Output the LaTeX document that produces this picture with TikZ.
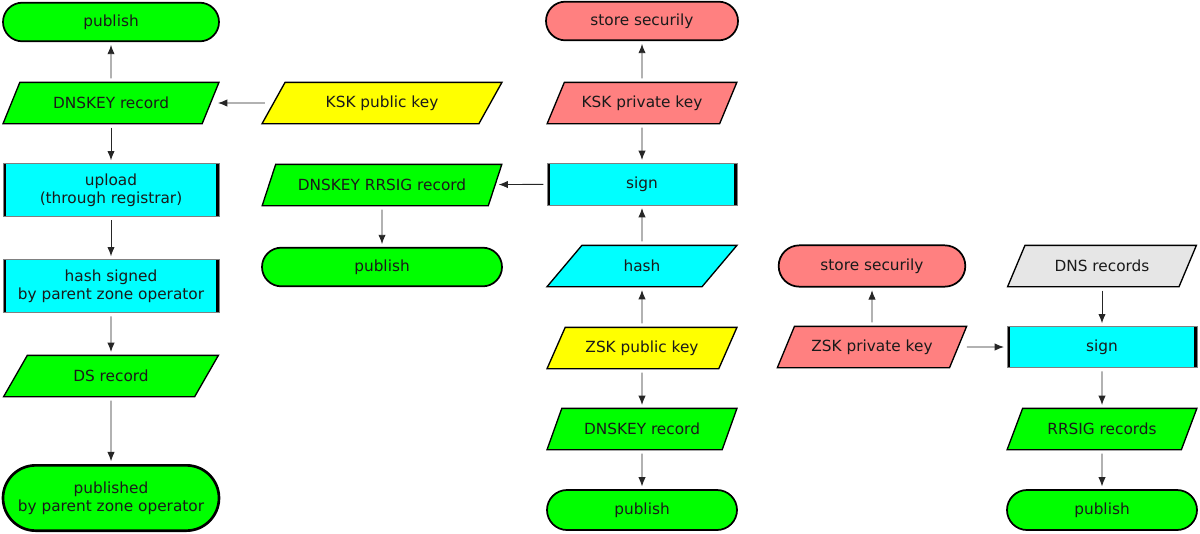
\documentclass[tikz,border=0pt]{standalone}
\usepackage{fontspec}
\setmainfont{DejaVu Sans}
\usetikzlibrary{arrows.meta}
\usetikzlibrary{shapes.geometric}
\usetikzlibrary{shapes.misc}
\definecolor{grn}{HTML}{00FF00}
\definecolor{cyn}{HTML}{00FFFF}
\definecolor{ylw}{HTML}{FFFF00}
\definecolor{slm}{HTML}{FF8080}
\definecolor{gry}{HTML}{E6E6E6}
\definecolor{txt}{HTML}{1A1A1A}
\tikzset{
  term/.style={rounded rectangle, draw=black, line width=1.3pt, fill=#1,
    minimum height=29pt, inner sep=0pt, align=center},
  data/.style={trapezium, trapezium left angle=48, trapezium right angle=132,
    trapezium stretches=true, draw=black, line width=1pt, fill=#1,
    minimum height=31pt, inner sep=0pt},
  proc/.style={rectangle, draw=gray, line width=0.5pt, fill=cyn, align=center,
    inner sep=0pt, path picture={
      \draw[black, line width=4pt] (path picture bounding box.north west) -- (path picture bounding box.south west)
        (path picture bounding box.north east) -- (path picture bounding box.south east);}},
  flow/.style={-{Latex[length=7pt, width=5.5pt]}, line width=0.7pt, draw=black!85,
    shorten <=2.5pt, shorten >=2pt},
}

\begin{document}
\begin{tikzpicture}[x=0.75pt, y=-0.75pt, every node/.style={text=txt},
    font=\fontsize{11.5}{13.5}\selectfont]
          \useasboundingbox (0,0) rectangle (1200,533);

          \node[term=grn, minimum width=162pt] (pub1) at (111,22) {publish};
          \node[data=grn, minimum width=162pt] (dnsk1) at (111,103) {DNSKEY record};
          \node[proc, minimum width=162pt, minimum height=40pt] (upl) at (111,190) {upload\\(through registrar)};
          \node[proc, minimum width=162pt, minimum height=40pt] (hsig) at (111,286) {hash signed\\by parent zone operator};
          \node[data=grn, minimum width=162pt] (ds) at (111,376) {DS record};
          \node[term=grn, minimum width=162pt, minimum height=49pt, line width=2pt] (pubd) at (111,498) {published\\by parent zone operator};

          \node[data=ylw, minimum width=180pt] (kskpub) at (382,103) {KSK public key};
          \node[data=grn, minimum width=180pt] (rrsig) at (382,185) {DNSKEY RRSIG record};
          \node[term=grn, minimum width=180pt] (pub2) at (382,267) {publish};

          \node[term=slm, minimum width=144pt] (store1) at (642,21) {store securily};
          \node[data=slm, minimum width=142.5pt] (kskpriv) at (642,103) {KSK private key};
          \node[proc, minimum width=142.5pt, minimum height=31.5pt] (sign1) at (642,184) {sign};
          \node[data=cyn, minimum width=142.5pt] (hash) at (642,266) {hash};
          \node[data=ylw, minimum width=142.5pt] (zskpub) at (642,348) {ZSK public key};
          \node[data=grn, minimum width=142.5pt] (dnsk2) at (642,429) {DNSKEY record};
          \node[term=grn, minimum width=142.5pt, minimum height=30pt] (pub3) at (642,510) {publish};

          \node[term=slm, minimum width=140pt, minimum height=31pt] (store2) at (872,266) {store securily};
          \node[data=slm, minimum width=142pt] (zskpriv) at (872,347) {ZSK private key};

          \node[data=gry, minimum width=142.5pt] (dnsrec) at (1102,266) {DNS records};
          \node[proc, minimum width=142.5pt, minimum height=31pt] (sign2) at (1102,347) {sign};
          \node[data=grn, minimum width=142.5pt] (rrsigs) at (1102,429) {RRSIG records};
          \node[term=grn, minimum width=142.5pt, minimum height=30pt] (pub4) at (1102,510) {publish};

          \draw[flow] (dnsk1) -- (pub1);
          \draw[flow, shorten <=6pt, shorten >=5pt] (kskpub) -- (dnsk1);
          \draw[flow] (dnsk1) -- (upl);
          \draw[flow] (upl) -- (hsig);
          \draw[flow] (hsig) -- (ds);
          \draw[flow] (ds) -- (pubd);
          \draw[flow] (sign1) -- (rrsig);
          \draw[flow] (rrsig) -- (pub2);
          \draw[flow] (kskpriv) -- (store1);
          \draw[flow] (kskpriv) -- (sign1);
          \draw[flow] (hash) -- (sign1);
          \draw[flow] (zskpub) -- (hash);
          \draw[flow] (zskpub) -- (dnsk2);
          \draw[flow] (dnsk2) -- (pub3);
          \draw[flow] (zskpriv) -- (store2);
          \draw[flow, shorten <=6pt] (zskpriv) -- (sign2);
          \draw[flow] (dnsrec) -- (sign2);
          \draw[flow] (sign2) -- (rrsigs);
          \draw[flow] (rrsigs) -- (pub4);
        \end{tikzpicture}
\end{document}
